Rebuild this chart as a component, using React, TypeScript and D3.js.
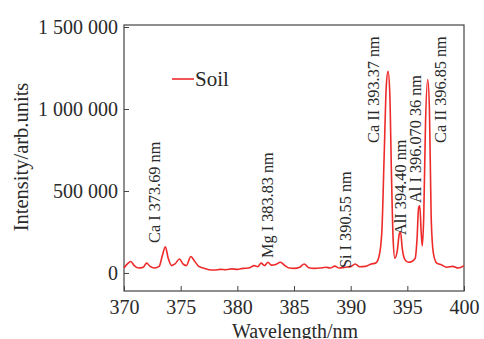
import React, { useEffect, useRef } from "react";
import * as d3 from "d3";

// spectrum (wavelength in nm, intensity in arb. units)
const wavelengths = [
  370.0, 370.3, 370.6, 370.9, 371.3, 371.7, 372.0, 372.3, 372.7, 373.1,
  373.4, 373.65, 373.9, 374.2, 374.5, 374.9, 375.2, 375.5, 375.9, 376.2,
  376.6, 377.0, 377.5, 378.0, 378.5, 379.0, 379.5, 380.0, 380.5, 381.0,
  381.5, 381.8, 382.1, 382.4, 382.7, 383.0, 383.4, 383.8, 384.2, 384.6,
  385.0, 385.5, 385.9, 386.3, 386.8, 387.3, 387.8, 388.2, 388.6, 389.0,
  389.5, 390.0, 390.4, 390.8, 391.3, 391.8, 392.2, 392.5, 392.75, 392.95,
  393.15, 393.3, 393.45, 393.6, 393.75, 393.9, 394.1, 394.3, 394.4, 394.55,
  394.8, 395.1, 395.4, 395.7, 395.85, 396.0, 396.1, 396.22, 396.32, 396.45,
  396.6, 396.8, 396.95, 397.1, 397.3, 397.6, 398.0, 398.5, 399.0, 399.5, 400.0,
];
const intensities = [
  30000, 55000, 70000, 45000, 30000, 35000, 60000, 40000, 30000, 40000,
  110000, 160000, 90000, 45000, 55000, 85000, 55000, 45000, 100000, 75000,
  40000, 30000, 20000, 18000, 22000, 20000, 25000, 22000, 28000, 30000,
  45000, 38000, 60000, 45000, 65000, 48000, 52000, 65000, 45000, 30000,
  28000, 35000, 55000, 32000, 28000, 30000, 35000, 30000, 42000, 30000,
  35000, 38000, 55000, 38000, 40000, 55000, 60000, 100000, 250000, 700000,
  1150000, 1230000, 1100000, 600000, 200000, 90000, 130000, 240000, 250000, 150000,
  80000, 65000, 70000, 90000, 200000, 400000, 410000, 250000, 165000, 350000,
  900000, 1180000, 1000000, 350000, 120000, 60000, 50000, 35000, 40000, 30000, 45000,
];

const xTicks = [370, 375, 380, 385, 390, 395, 400];
const yTicks = [0, 500000, 1000000, 1500000];

// peak labels: text, wavelength of label, intensity where text starts
const peakLabels = ["Ca I 373.69 nm", "Mg I 383.83 nm", "Si I 390.55 nm", "Ca II 393.37 nm", "AlI 394.40 nm", "Al I 396.070 36 nm", "Ca II 396.85 nm"];
const peakLabelX = [372.7, 382.6, 389.5, 392.0, 394.35, 395.7, 397.9];
const peakLabelY = [183000, 91000, 30000, 793000, 232000, 427000, 793000];

const W = 484, H = 339;
const margin = { top: 25, right: 20, bottom: 48, left: 124 };
const red = "#ee2b2b";
const ink = "#2a2a2a";
const serif = "'Liberation Serif', 'Times New Roman', serif";

export default function App() {
  const ref = useRef<SVGSVGElement>(null);

  useEffect(() => {
    const svg = d3.select(ref.current);
    svg.selectAll("*").remove();

    const x = d3.scaleLinear().domain([370, 400]).range([margin.left, W - margin.right]);
    const y = d3.scaleLinear().domain([-110000, 1500000]).range([H - margin.bottom, margin.top + 2]);

    const fmt = (d: number) => d3.format(",")(d).replace(/,/g, " ");

    // frame
    svg.append("rect")
      .attr("x", margin.left).attr("y", margin.top)
      .attr("width", W - margin.left - margin.right)
      .attr("height", H - margin.top - margin.bottom)
      .attr("fill", "none").attr("stroke", "#444").attr("stroke-width", 1.2);

    const gx = svg.append("g").attr("transform", `translate(0,${H - margin.bottom})`)
      .call(d3.axisBottom(x).tickValues(xTicks).tickSize(-5).tickPadding(9).tickFormat(d3.format("d")));
    const gy = svg.append("g").attr("transform", `translate(${margin.left},0)`)
      .call(d3.axisLeft(y).tickValues(yTicks).tickSize(-5).tickPadding(6).tickFormat((d) => fmt(d as number)));
    [gx, gy].forEach((g) => {
      g.select(".domain").remove();
      g.selectAll("line").attr("stroke", "#444");
      g.selectAll("text").attr("font-family", serif).attr("font-size", 20).attr("fill", ink);
    });

    // spectrum
    const pts = wavelengths.map((w, i) => [w, intensities[i]] as [number, number]);
    svg.append("path")
      .datum(pts)
      .attr("fill", "none").attr("stroke", red).attr("stroke-width", 1.6)
      .attr("d", d3.line<[number, number]>().x((d) => x(d[0])).y((d) => y(d[1])).curve(d3.curveMonotoneX));

    // peak labels
    peakLabels.forEach((t, i) => {
      svg.append("text")
        .attr("transform", `translate(${x(peakLabelX[i])},${y(peakLabelY[i])}) rotate(-90)`)
        .attr("dy", "0.35em")
        .attr("font-family", serif).attr("font-size", 16.3).attr("fill", ink)
        .text(t);
    });

    // legend
    svg.append("line").attr("x1", 172).attr("x2", 194).attr("y1", 79).attr("y2", 79)
      .attr("stroke", red).attr("stroke-width", 1.6);
    svg.append("text").attr("x", 195).attr("y", 79).attr("dy", "0.35em")
      .attr("font-family", serif).attr("font-size", 21).attr("fill", ink).text("Soil");

    // axis titles
    svg.append("text").attr("x", 295).attr("y", 338)
      .attr("text-anchor", "middle").attr("font-family", serif).attr("font-size", 20).attr("fill", ink)
      .text("Wavelength/nm");
    svg.append("text").attr("transform", `translate(21,157) rotate(-90)`)
      .attr("text-anchor", "middle").attr("dy", "0.35em")
      .attr("font-family", serif).attr("font-size", 20.5).attr("fill", ink)
      .text("Intensity/arb.units");
  }, []);

  return (
    <svg ref={ref} width={W} height={H} style={{ position: "absolute", left: 0, top: 0, background: "#fff" }} />
  );
}
